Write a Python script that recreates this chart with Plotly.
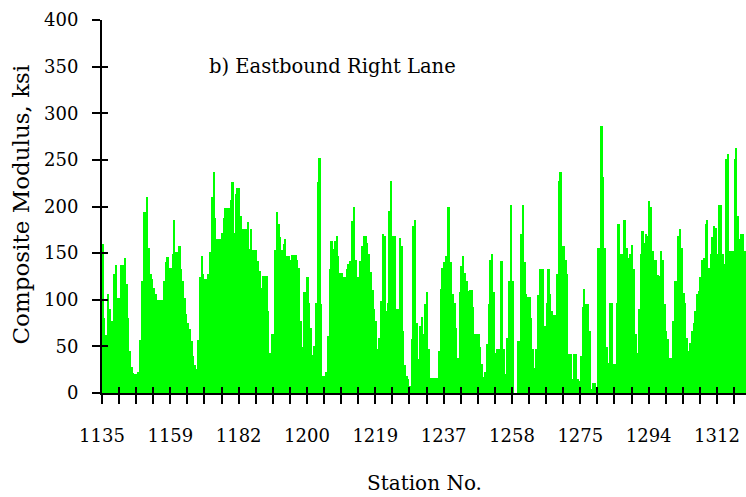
import plotly.graph_objects as go

# Composite modulus (ksi) along the eastbound right lane, one value per test point,
# grouped ten readings per tick interval.
modulus_ksi = [
    160, 80, 62, 106, 90, 77, 77, 128, 137, 102,
    102, 137, 137, 145, 117, 80, 45, 28, 21, 20,
    20, 22, 57, 120, 194, 194, 210, 156, 128, 122,
    113, 106, 100, 100, 100, 100, 120, 140, 146, 134,
    134, 149, 185, 151, 151, 158, 133, 120, 102, 85,
    75, 69, 56, 40, 30, 26, 57, 124, 147, 128,
    122, 122, 128, 151, 210, 237, 188, 165, 165, 165,
    172, 188, 198, 198, 198, 207, 226, 172, 213, 220,
    220, 190, 176, 176, 176, 183, 154, 176, 153, 153,
    153, 142, 131, 113, 126, 126, 126, 88, 43, 63,
    63, 153, 194, 181, 167, 153, 160, 165, 147, 147,
    143, 148, 148, 148, 143, 134, 77, 49, 108, 108,
    124, 97, 70, 41, 50, 97, 226, 252, 95, 18,
    18, 22, 61, 133, 163, 154, 163, 168, 147, 129,
    129, 124, 124, 133, 138, 142, 184, 200, 143, 124,
    124, 142, 158, 168, 168, 161, 149, 130, 110, 90,
    77, 47, 59, 99, 171, 168, 88, 97, 195, 227,
    168, 168, 90, 90, 166, 158, 66, 30, 18, 15,
    8, 58, 179, 186, 75, 36, 72, 81, 63, 95,
    108, 47, 16, 16, 16, 16, 16, 45, 111, 134,
    140, 147, 200, 199, 140, 106, 97, 70, 38, 108,
    136, 147, 129, 120, 109, 110, 110, 92, 63, 63,
    63, 49, 31, 17, 22, 53, 95, 143, 149, 108,
    43, 47, 47, 142, 142, 47, 20, 59, 120, 202,
    120, 0, 0, 56, 56, 171, 202, 140, 106, 103,
    103, 80, 47, 27, 47, 105, 133, 133, 133, 72,
    97, 133, 106, 88, 84, 84, 128, 227, 237, 158,
    158, 143, 128, 42, 42, 15, 42, 42, 15, 13,
    40, 92, 111, 95, 95, 67, 4, 11, 11, 1,
    155, 155, 286, 232, 155, 49, 32, 97, 97, 31,
    31, 97, 181, 149, 149, 186, 186, 156, 145, 149,
    159, 133, 63, 43, 90, 149, 174, 161, 170, 168,
    206, 199, 152, 143, 143, 127, 125, 152, 143, 95,
    66, 58, 38, 38, 77, 120, 120, 168, 176, 156,
    107, 97, 59, 45, 54, 66, 75, 88, 106, 109,
    124, 143, 145, 181, 186, 134, 149, 167, 179, 177,
    149, 202, 202, 149, 138, 251, 256, 152, 152, 152,
    251, 263, 190, 165, 170, 170, 152,
]

station_labels = ["1135", "1159", "1182", "1200", "1219",
                  "1237", "1258", "1275", "1294", "1312"]

y_ticks = [0, 50, 100, 150, 200, 250, 300, 350, 400]

READINGS_PER_TICK = 10
TICKS_PER_LABEL = 4

n = len(modulus_ksi)
points = list(range(n))
n_ticks = (n - 1) // READINGS_PER_TICK + 1
tick_pos = [k * READINGS_PER_TICK - 0.5 for k in range(n_ticks)]
tick_text = []
for k in range(n_ticks):
    if k % TICKS_PER_LABEL == 0 and k // TICKS_PER_LABEL < len(station_labels):
        tick_text.append(station_labels[k // TICKS_PER_LABEL])
    else:
        tick_text.append("")

SERIF = "DejaVu Serif"
x_range = [-0.5, n - 0.5]
y_range = [0, 400]

fig = go.Figure()
fig.add_trace(go.Bar(
    x=points, y=modulus_ksi,
    marker=dict(color="#00FF00", line=dict(width=0)),
    hoverinfo="y",
))
# empty trace carrying the overlay axes used for the inward half of each tick
fig.add_trace(go.Scatter(x=[], y=[], xaxis="x2", yaxis="y2",
                         showlegend=False, hoverinfo="skip"))

axis_common = dict(showgrid=False, zeroline=False, tickcolor="black",
                   tickwidth=2, tickfont=dict(family=SERIF, size=18, color="black"))

fig.update_layout(
    width=746, height=497,
    font=dict(family=SERIF, color="black"),
    margin=dict(l=102, r=0, t=20, b=104, pad=0),
    plot_bgcolor="white", paper_bgcolor="white",
    bargap=0, showlegend=False,
    xaxis=dict(range=x_range, tickmode="array", tickvals=tick_pos, ticktext=tick_text,
               ticks="outside", ticklen=9, showline=True, linewidth=2,
               linecolor="black", ticklabelstandoff=16, **axis_common),
    yaxis=dict(range=y_range, tickmode="array", tickvals=y_ticks,
               ticks="outside", ticklen=8, showline=True, linewidth=2,
               linecolor="black", ticklabelstandoff=10, **axis_common),
    xaxis2=dict(range=x_range, overlaying="x", anchor="y", side="bottom",
                tickmode="array", tickvals=tick_pos, ticks="inside", ticklen=6,
                showticklabels=False, showline=False, **axis_common),
    yaxis2=dict(range=y_range, overlaying="y", anchor="x", side="left",
                tickmode="array", tickvals=y_ticks, ticks="inside", ticklen=6,
                showticklabels=False, showline=False, **axis_common),
    annotations=[
        dict(text="b) Eastbound Right Lane", xref="paper", yref="paper",
             x=0.163, y=0.874, xanchor="left", yanchor="middle", showarrow=False,
             font=dict(family=SERIF, size=19.5, color="black")),
        dict(text="Composite Modulus, ksi", xref="paper", yref="paper",
             x=-0.126, y=0.505, xanchor="center", yanchor="middle", textangle=-90,
             showarrow=False, font=dict(family=SERIF, size=23, color="black")),
        dict(text="Station No.", xref="paper", yref="paper",
             x=0.5, y=-0.24, xanchor="center", yanchor="middle", showarrow=False,
             font=dict(family=SERIF, size=20, color="black")),
    ],
)

fig.write_html("out.html")
